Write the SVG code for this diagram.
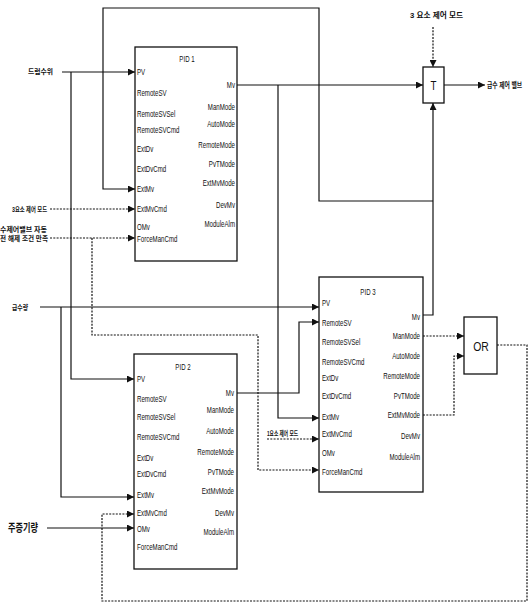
<svg xmlns="http://www.w3.org/2000/svg" width="529" height="603" viewBox="0 0 529 603">
<style>
.box{fill:#fff;stroke:#111;stroke-width:1.3}
.ln{fill:none;stroke:#111;stroke-width:1.2}
.dl{fill:none;stroke:#111;stroke-width:1.2;stroke-dasharray:2 1.3}
.pl{font-family:"Liberation Sans",Arial,sans-serif;font-size:8.5px;fill:#111}
.pr{font-family:"Liberation Sans",Arial,sans-serif;font-size:8.5px;fill:#111;text-anchor:end}
.tt{font-family:"Liberation Sans",Arial,sans-serif;font-size:8.5px;fill:#111;text-anchor:middle}
.kr{font-family:"Liberation Sans","Noto Sans CJK KR",sans-serif;font-size:7px;font-weight:bold;fill:#111}
</style>
<defs>
<marker id="ah" markerUnits="userSpaceOnUse" markerWidth="8" markerHeight="7" refX="7" refY="3.5" orient="auto">
<path d="M0,0 L7,3.5 L0,7 z" fill="#111"/>
</marker>
</defs>
<rect width="529" height="603" fill="#fff"/>

<g id="pid1">
<rect class="box" x="135" y="47" width="102" height="214"/>
<g transform="translate(187 0) scale(0.72 1)"><text class="tt" x="0" y="62">PID 1</text></g>
<g transform="translate(137 0) scale(0.72 1)">
<text class="pl" x="0" y="75">PV</text>
<text class="pl" x="0" y="96">RemoteSV</text>
<text class="pl" x="0" y="117">RemoteSVSel</text>
<text class="pl" x="0" y="133">RemoteSVCmd</text>
<text class="pl" x="0" y="152">ExtDv</text>
<text class="pl" x="0" y="172">ExtDvCmd</text>
<text class="pl" x="0" y="192">ExtMv</text>
<text class="pl" x="0" y="212">ExtMvCmd</text>
<text class="pl" x="0" y="230">OMv</text>
<text class="pl" x="0" y="242">ForceManCmd</text>
</g>
<g transform="translate(235 0) scale(0.72 1)">
<text class="pr" x="0" y="88">Mv</text>
<text class="pr" x="0" y="110">ManMode</text>
<text class="pr" x="0" y="127">AutoMode</text>
<text class="pr" x="0" y="148">RemoteMode</text>
<text class="pr" x="0" y="167">PvTMode</text>
<text class="pr" x="0" y="186">ExtMvMode</text>
<text class="pr" x="0" y="208">DevMv</text>
<text class="pr" x="0" y="227">ModuleAlm</text>
</g>
</g>

<g id="pid2">
<rect class="box" x="134" y="354" width="103" height="215"/>
<g transform="translate(183 0) scale(0.72 1)"><text class="tt" x="0" y="370">PID 2</text></g>
<g transform="translate(137 0) scale(0.72 1)">
<text class="pl" x="0" y="382">PV</text>
<text class="pl" x="0" y="402">RemoteSV</text>
<text class="pl" x="0" y="420">RemoteSVSel</text>
<text class="pl" x="0" y="440">RemoteSVCmd</text>
<text class="pl" x="0" y="461">ExtDv</text>
<text class="pl" x="0" y="477">ExtDvCmd</text>
<text class="pl" x="0" y="498">ExtMv</text>
<text class="pl" x="0" y="516">ExtMvCmd</text>
<text class="pl" x="0" y="532">OMv</text>
<text class="pl" x="0" y="550">ForceManCmd</text>
</g>
<g transform="translate(234 0) scale(0.72 1)">
<text class="pr" x="0" y="396">Mv</text>
<text class="pr" x="0" y="413">ManMode</text>
<text class="pr" x="0" y="434">AutoMode</text>
<text class="pr" x="0" y="455">RemoteMode</text>
<text class="pr" x="0" y="475">PvTMode</text>
<text class="pr" x="0" y="494">ExtMvMode</text>
<text class="pr" x="0" y="516">DevMv</text>
<text class="pr" x="0" y="535">ModuleAlm</text>
</g>
</g>

<g id="pid3">
<rect class="box" x="319" y="277" width="104" height="215"/>
<g transform="translate(368 0) scale(0.72 1)"><text class="tt" x="0" y="295">PID 3</text></g>
<g transform="translate(322 0) scale(0.72 1)">
<text class="pl" x="0" y="306">PV</text>
<text class="pl" x="0" y="326">RemoteSV</text>
<text class="pl" x="0" y="345">RemoteSVSel</text>
<text class="pl" x="0" y="365">RemoteSVCmd</text>
<text class="pl" x="0" y="381">ExtDv</text>
<text class="pl" x="0" y="399">ExtDvCmd</text>
<text class="pl" x="0" y="420">ExtMv</text>
<text class="pl" x="0" y="437">ExtMvCmd</text>
<text class="pl" x="0" y="456">OMv</text>
<text class="pl" x="0" y="475">ForceManCmd</text>
</g>
<g transform="translate(420 0) scale(0.72 1)">
<text class="pr" x="0" y="320">Mv</text>
<text class="pr" x="0" y="339">ManMode</text>
<text class="pr" x="0" y="359">AutoMode</text>
<text class="pr" x="0" y="379">RemoteMode</text>
<text class="pr" x="0" y="399">PvTMode</text>
<text class="pr" x="0" y="418">ExtMvMode</text>
<text class="pr" x="0" y="439">DevMv</text>
<text class="pr" x="0" y="460">ModuleAlm</text>
</g>
</g>

<g id="t">
<rect class="box" x="423" y="67" width="21" height="36"/>
<g transform="translate(433.5 0) scale(0.75 1)"><text class="tt" x="0" y="90" style="font-size:13px">T</text></g>
</g>

<g id="or">
<rect class="box" x="464" y="317" width="33" height="57"/>
<g transform="translate(481 0) scale(0.8 1)"><text class="tt" x="0" y="351" style="font-size:13px">OR</text></g>
</g>

<g id="labels">
<text class="kr" x="28" y="74" textLength="25" lengthAdjust="spacingAndGlyphs">드럼수위</text>
<text class="kr" x="12" y="212" textLength="35" lengthAdjust="spacingAndGlyphs">3요소 제어 모드</text>
<text class="kr" x="0" y="232" textLength="47" lengthAdjust="spacingAndGlyphs">수제어밸브 자동</text>
<text class="kr" x="0" y="241" textLength="48" lengthAdjust="spacingAndGlyphs">전 해제 조건 만족</text>
<text class="kr" x="12" y="310" textLength="16" lengthAdjust="spacingAndGlyphs">급수량</text>
<text class="kr" x="267" y="436" textLength="31" lengthAdjust="spacingAndGlyphs">1요소 제어 모드</text>
<text class="kr" x="410" y="18" textLength="53" lengthAdjust="spacingAndGlyphs" style="font-size:8px">3 요소 제어 모드</text>
<g transform="translate(487 88) scale(1 1.3)"><text class="kr" x="0" y="0" style="font-size:5.8px">급수 제어 밸브</text></g>
<text class="kr" x="8" y="532" textLength="30" lengthAdjust="spacingAndGlyphs" style="font-size:11px">주증기량</text>
</g>

<g id="connectors">
<path class="ln" d="M62,72 H135" marker-end="url(#ah)"/>
<path class="ln" d="M71,72 V379 H134" marker-end="url(#ah)"/>
<path class="ln" d="M433,201 H319 V8 H103 V189 H135" marker-end="url(#ah)"/>
<path class="ln" d="M237,85 H423" marker-end="url(#ah)"/>
<path class="ln" d="M278,85 V418 H319" marker-end="url(#ah)"/>
<path class="ln" d="M423,315 H433 V103" marker-end="url(#ah)"/>
<path class="ln" d="M444,85 H485" marker-end="url(#ah)"/>
<path class="ln" d="M40,307 H319" marker-end="url(#ah)"/>
<path class="ln" d="M61,307 V497 H134" marker-end="url(#ah)"/>
<path class="ln" d="M237,393 H299 V322 H319" marker-end="url(#ah)"/>
<path class="ln" d="M47,528 H134" marker-end="url(#ah)"/>
<path class="dl" d="M50,209 H135" marker-end="url(#ah)"/>
<path class="dl" d="M50,238 H135" marker-end="url(#ah)"/>
<path class="dl" d="M92,238 V335 H258 V470 H319" marker-end="url(#ah)"/>
<path class="dl" d="M267,439 H319" marker-end="url(#ah)"/>
<path class="dl" d="M423,336 H464" marker-end="url(#ah)"/>
<path class="dl" d="M423,415 H454 V356 H464" marker-end="url(#ah)"/>
<path class="dl" d="M497,345 H527 V601 H102 V514 H134" marker-end="url(#ah)"/>
<path class="dl" d="M433,27 V67" marker-end="url(#ah)"/>
</g>
</svg>
